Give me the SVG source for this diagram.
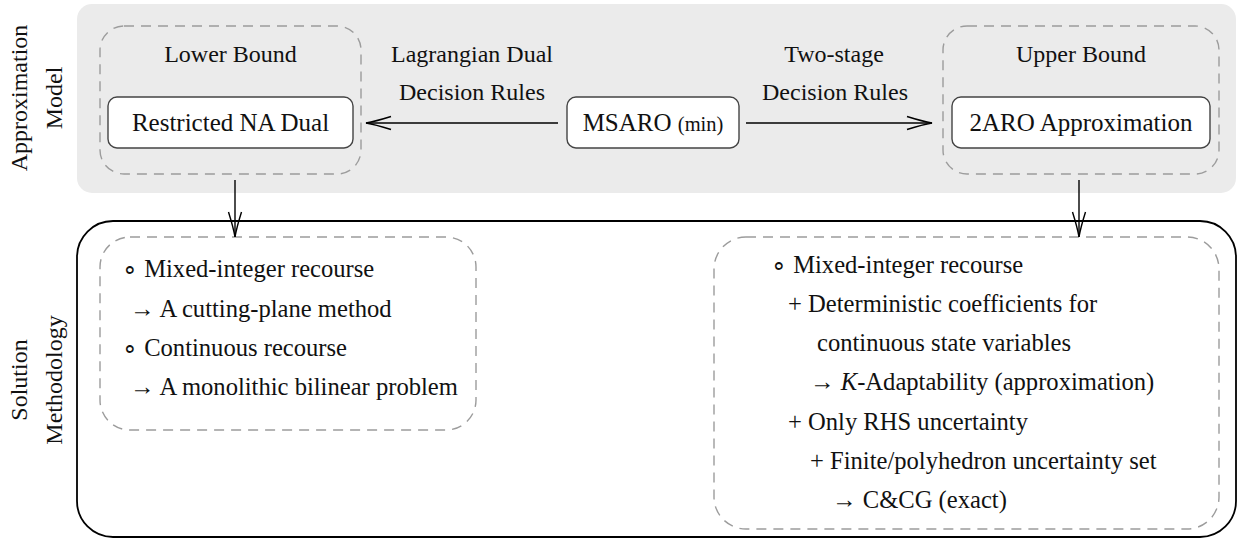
<svg xmlns="http://www.w3.org/2000/svg" width="1241" height="539" viewBox="0 0 1241 539">
<style>
text{font-family:"Liberation Serif","Times New Roman",serif;font-size:24px;fill:#111}
.c{text-anchor:middle}
.n{font-size:25px}
.l{font-size:24.6px}
.dash{fill:none;stroke:#9c9c9c;stroke-width:1.4;stroke-dasharray:10 7}
.node{fill:#fff;stroke:#444;stroke-width:1.4}
.wire{fill:none;stroke:#000;stroke-width:1.4}
</style>
<defs>
<marker id="ah" markerUnits="userSpaceOnUse" viewBox="-27 -8 29 16" refX="0" refY="0" markerWidth="29" markerHeight="16" orient="auto">
<path d="M -25 -6.5 Q -9 -1.5 0 0 Q -9 1.5 -25 6.5" fill="none" stroke="#000" stroke-width="1.4"/>
</marker>
</defs>

<g id="approx-panel">
<rect x="77" y="4" width="1159" height="189" rx="15" fill="#ebebeb"/>
<text class="c" transform="translate(26.5,98) rotate(-90)">Approximation</text>
<text class="c" transform="translate(62,98) rotate(-90)">Model</text>
</g>

<g id="solution-panel">
<rect x="77" y="221" width="1159" height="316" rx="36" fill="none" stroke="#000" stroke-width="1.8"/>
<text class="c" transform="translate(26.5,380) rotate(-90)">Solution</text>
<text class="c" transform="translate(62,380) rotate(-90)">Methodology</text>
</g>

<g id="lower-bound">
<rect class="dash" x="100" y="26" width="261" height="148" rx="24"/>
<text class="c" x="230.5" y="62">Lower Bound</text>
</g>

<g id="restricted-na-dual">
<rect class="node" x="108" y="97" width="245" height="51" rx="9"/>
<text class="c n" x="230.5" y="130.5">Restricted NA Dual</text>
</g>

<g id="msaro">
<rect class="node" x="567" y="97" width="172" height="51" rx="9"/>
<text class="c n" x="653" y="130.5">MSARO <tspan font-size="20.5">(min)</tspan></text>
</g>

<g id="upper-bound">
<rect class="dash" x="943" y="26" width="276" height="148" rx="24"/>
<text class="c" x="1081" y="62">Upper Bound</text>
</g>

<g id="two-aro">
<rect class="node" x="952" y="97" width="258" height="51" rx="9"/>
<text class="c n" x="1081" y="130.5">2ARO Approximation</text>
</g>

<g id="lower-methods">
<rect class="dash" x="100" y="237" width="376" height="193" rx="30"/>
<text class="l" x="122" y="277">∘ Mixed-integer recourse</text>
<text class="l" x="130" y="316.5">→ A cutting-plane method</text>
<text class="l" x="122" y="356">∘ Continuous recourse</text>
<text class="l" x="130" y="395">→ A monolithic bilinear problem</text>
</g>

<g id="upper-methods">
<rect class="dash" x="714" y="237" width="505" height="292" rx="32"/>
<text class="l" x="771" y="272.5">∘ Mixed-integer recourse</text>
<text class="l" x="788" y="311.8">+ Deterministic coefficients for</text>
<text class="l" x="817" y="351.1">continuous state variables</text>
<text class="l" x="810" y="390.4">→ <tspan font-style="italic">K</tspan>-Adaptability (approximation)</text>
<text class="l" x="788" y="429.7">+ Only RHS uncertainty</text>
<text class="l" x="810" y="469">+ Finite/polyhedron uncertainty set</text>
<text class="l" x="832" y="508.3">→ C&amp;CG (exact)</text>
</g>

<g id="connectors">
<path class="wire" d="M 558 123 L 366 123" marker-end="url(#ah)"/>
<text class="c" x="472" y="62">Lagrangian Dual</text>
<text class="c" x="472" y="100">Decision Rules</text>
<path class="wire" d="M 746 123 L 932 123" marker-end="url(#ah)"/>
<text class="c" x="834" y="62">Two-stage</text>
<text class="c" x="835" y="100">Decision Rules</text>
<path class="wire" d="M 235 180 L 235 237" marker-end="url(#ah)"/>
<path class="wire" d="M 1079 180 L 1079 237" marker-end="url(#ah)"/>
</g>
</svg>
